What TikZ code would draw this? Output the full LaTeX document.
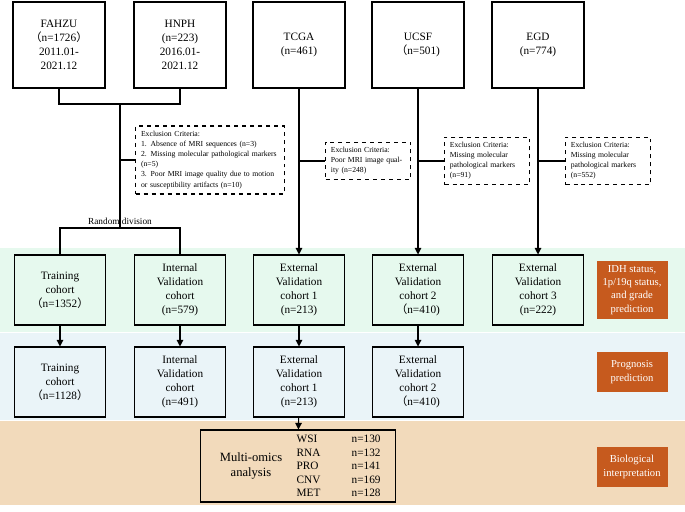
\documentclass[tikz,border=0pt]{standalone}
\usepackage{fontspec}
\setmainfont{Liberation Serif}
\newfontfamily\cjk{Noto Sans CJK SC}
\usetikzlibrary{positioning,arrows.meta}
\definecolor{bandgreen}{HTML}{E6F9EE}
\definecolor{bandblue}{HTML}{EAF4F8}
\definecolor{bandtan}{HTML}{F2DABB}
\definecolor{tagorange}{HTML}{C65A1E}
\def\px{0.754pt}
\newcommand{\lp}{{\cjk （}}
\newcommand{\rp}{{\cjk ）}}
\tikzset{
  src/.style={draw, thick, minimum width=92*\px, minimum height=86*\px, align=center, font=\fontsize{8.5}{10.5}\selectfont},
  cohort/.style={draw, thick, minimum width=91*\px, minimum height=70*\px, align=center, font=\fontsize{8.5}{10.5}\selectfont},
  excl/.style={draw, thick, dashed, align=left, inner sep=4pt, font=\fontsize{5.8}{7.6}\selectfont},
  tag/.style={fill=tagorange, text=white, minimum width=71*\px, align=center, font=\fontsize{8}{10}\selectfont},
  arr/.style={thick, -{Triangle[length=5pt,width=5pt]}},
}
\begin{document}
\begin{tikzpicture}[x=0.0265cm, y=-0.0265cm]
\useasboundingbox (0,0) rectangle (685,511);
% bands
\fill[bandgreen] (0,248) rectangle (685,332);
\fill[bandblue] (0,333) rectangle (685,420);
\fill[bandtan] (0,421) rectangle (685,505);
% sources
\node[src] (fahzu) at (59,45) {FAHZU\\\lp n=1726\rp\\2011.01-\\2021.12};
\node[src] (hnph) at (180,45) {HNPH\\(n=223)\\2016.01-\\2021.12};
\node[src] (tcga) at (299,45) {TCGA\\(n=461)};
\node[src] (ucsf) at (418,45) {UCSF\\\lp n=501)};
\node[src] (egd) at (538,45) {EGD\\(n=774)};
% exclusions
\node[excl, text width=104pt] (ex1) at (210,160) {Exclusion Criteria:\\1. Absence of MRI sequences (n=3)\\2. Missing molecular pathological markers (n=5)\\3. Poor MRI image quality due to motion or susceptibility artifacts (n=10)};
\node[excl, text width=56pt] (ex2) at (368,161) {Exclusion Criteria:\\Poor MRI image quality (n=248)};
\node[excl, text width=56pt] (ex3) at (487,161) {Exclusion Criteria:\\Missing molecular pathological markers (n=91)};
\node[excl, text width=56pt] (ex4) at (608,161) {Exclusion Criteria:\\Missing molecular pathological markers (n=552)};
% cohorts, first row
\node[cohort] (train1) at (60,290) {Training\\cohort\\\lp n=1352\rp};
\node[cohort] (int1) at (180,290) {Internal\\Validation\\cohort\\(n=579)};
\node[cohort] (ext11) at (299,290) {External\\Validation\\cohort 1\\(n=213)};
\node[cohort] (ext21) at (418,290) {External\\Validation\\cohort 2\\\lp n=410)};
\node[cohort] (ext31) at (538,290) {External\\Validation\\cohort 3\\(n=222)};
% cohorts, second row
\node[cohort] (train2) at (60,382) {Training\\cohort\\\lp n=1128\rp};
\node[cohort] (int2) at (180,382) {Internal\\Validation\\cohort\\(n=491)};
\node[cohort] (ext12) at (299,382) {External\\Validation\\cohort 1\\(n=213)};
\node[cohort] (ext22) at (418,382) {External\\Validation\\cohort 2\\\lp n=410)};
% multi-omics
\node[draw, thick, minimum width=195*\px, minimum height=72*\px] (omics) at (298,466) {};
\node[font=\fontsize{9.5}{12}\selectfont, align=center] (omlab) at (251,466) {Multi-omics\\analysis};
\node[font=\fontsize{8.5}{10.2}\selectfont, align=left, anchor=west] (omtyp) at (292,466) {WSI\\RNA\\PRO\\CNV\\MET};
\node[font=\fontsize{8.5}{10.2}\selectfont, align=left, anchor=west] (omnum) at (347,466) {n=130\\n=132\\n=141\\n=169\\n=128};
% tags
\node[tag, minimum height=56*\px] (tag1) at (632,290) {IDH status,\\1p/19q status,\\and grade\\prediction};
\node[tag, minimum height=40*\px] (tag2) at (632,372) {Prognosis\\prediction};
\node[tag, minimum height=40*\px] (tag3) at (632,467) {Biological\\interpretation};
% connectors
\coordinate (jn) at (120,104);
\coordinate (rd) at (120,228);
\draw[thick] (fahzu.south) |- (jn) -| (hnph.south);
\draw[thick] (jn) -- (rd);
\draw[thick] (120,160) -- (ex1.west);
\draw[thick] (train1.north) |- (rd) -| (int1.north);
\node[font=\fontsize{7}{9}\selectfont, anchor=south] (rdl) at (120,229) {Random division};
\draw[arr] (tcga) -- (ext11);
\draw[arr] (ucsf) -- (ext21);
\draw[arr] (egd) -- (ext31);
\draw[thick] (299,161) -- (ex2.west);
\draw[thick] (418,161) -- (ex3.west);
\draw[thick] (538,161) -- (ex4.west);
\draw[arr] (train1) -- (train2);
\draw[arr] (int1) -- (int2);
\draw[arr] (ext11) -- (ext12);
\draw[arr] (ext21) -- (ext22);
\draw[arr] (ext12) -- (omics);
\end{tikzpicture}
\end{document}
